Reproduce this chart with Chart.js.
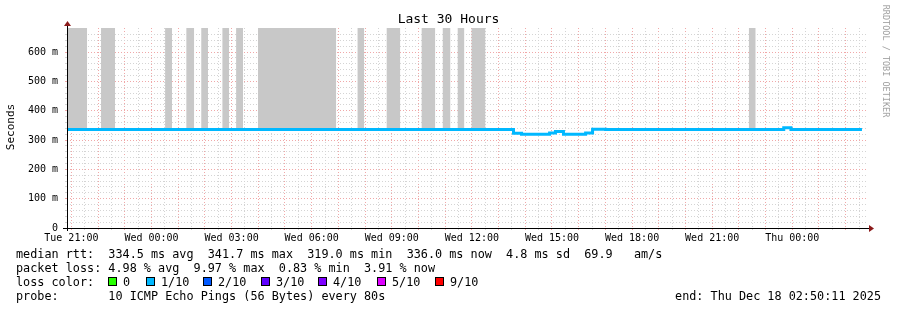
<!DOCTYPE html>
<html>
<head>
<meta charset="utf-8">
<script src="https://cdn.jsdelivr.net/npm/chart.js@4/dist/chart.umd.min.js"></script>
<style>
  body { margin: 0; background: #fff; }
  #wrap { position: relative; width: 897px; height: 310px; font-family: "DejaVu Sans Mono", monospace; color: #000; }
  canvas { position: absolute; left: 0; top: 0; }
  .t { position: absolute; white-space: pre; line-height: 14px; }
  .leg { font-size: 11.8px; }
  .box { position: absolute; width: 7px; height: 7px; border: 1px solid #000; }
</style>
</head>
<body>
<div id="wrap">
  <canvas id="chart" width="897" height="310"></canvas>
  <div class="t" style="left:0;width:897px;text-align:center;top:12px;font-size:13px;">Last 30 Hours</div>
  <div class="t" style="left:-19px;top:120px;width:60px;text-align:center;font-size:11px;transform:rotate(-90deg);">Seconds</div>
  <div class="t" style="left:826px;top:54px;width:120px;text-align:center;font-size:8.5px;color:#a0a0a0;transform:rotate(90deg);">RRDTOOL / TOBI OETIKER</div>
  <div id="legend"></div>
</div>
<script>
// x values are hours since Tue 00:00
const startHour = 20.836;   // Tue 20:50:11
const endHour = 50.836;     // Thu 02:50:11

// median rtt (ms), each value holds until the next time
const medianTimes = [20.84, 37.56, 37.86, 38.91, 39.13, 39.43, 40.26, 40.52, 41.01, 47.68, 47.95, 50.61];
const medianRtt   = [336,   323,   320,   324,   329,   320,   324,   337,   336,   342,   336,   336];

// gray smoke periods
const smokeStart = [20.87, 22.11, 24.51, 25.30, 25.86, 26.65, 27.17, 27.99, 31.71, 32.80, 34.11, 34.90, 35.46, 35.98, 46.37];
const smokeEnd   = [21.59, 22.64, 24.77, 25.60, 26.12, 26.91, 27.43, 30.92, 31.97, 33.32, 34.63, 35.20, 35.72, 36.51, 46.63];
const smokeTop = 682;
const smokeBase = 336;

const xTickHours  = [21, 24, 27, 30, 33, 36, 39, 42, 45, 48];
const xTickLabels = ['Tue 21:00', 'Wed 00:00', 'Wed 03:00', 'Wed 06:00', 'Wed 09:00',
                     'Wed 12:00', 'Wed 15:00', 'Wed 18:00', 'Wed 21:00', 'Thu 00:00'];
const yMax = 682;

const lossLabels = ['0', '1/10', '2/10', '3/10', '4/10', '5/10', '9/10'];
const lossColors = ['#26ff00', '#00b8ff', '#0059ff', '#5e00ff', '#7e00ff', '#dd00ff', '#ff0000'];

const legendLines = [
  'median rtt:  334.5 ms avg  341.7 ms max  319.0 ms min  336.0 ms now  4.8 ms sd  69.9   am/s',
  'packet loss: 4.98 % avg  9.97 % max  0.83 % min  3.91 % now',
  'loss color:',
  'probe:       10 ICMP Echo Pings (56 Bytes) every 80s'
];
const endText = 'end: Thu Dec 18 02:50:11 2025';

// legend text
const legend = document.getElementById('legend');
legendLines.forEach((txt, i) => {
  const d = document.createElement('div');
  d.className = 't leg';
  d.style.left = '16px';
  d.style.top = (247 + i * 14) + 'px';
  d.textContent = txt;
  legend.appendChild(d);
});
const boxX = [108, 146, 203, 261, 318, 377, 435];
lossLabels.forEach((lbl, i) => {
  const b = document.createElement('div');
  b.className = 'box';
  b.style.left = boxX[i] + 'px';
  b.style.top = '277px';
  b.style.background = lossColors[i];
  legend.appendChild(b);
  const d = document.createElement('div');
  d.className = 't leg';
  d.style.left = (boxX[i] + 15) + 'px';
  d.style.top = '275px';
  d.textContent = lbl;
  legend.appendChild(d);
});
const e = document.createElement('div');
e.className = 't leg';
e.style.right = '16px';
e.style.top = (247 + 3 * 14) + 'px';
e.textContent = endText;
legend.appendChild(e);

// build data
const medianData = medianTimes.map((t, i) => ({x: t, y: medianRtt[i]}));
const smokeData = [];
smokeStart.forEach((s, i) => {
  smokeData.push({x: s, y: smokeTop});
  smokeData.push({x: smokeEnd[i], y: smokeTop});
  smokeData.push({x: smokeEnd[i], y: null});
});

const isStep = (v, step) => Math.abs(v / step - Math.round(v / step)) < 1e-6;

const rrdAxes = {
  id: 'rrdAxes',
  afterDatasetsDraw(chart) {
    const {ctx, chartArea: a} = chart;
    ctx.save();
    ctx.strokeStyle = '#000';
    ctx.lineWidth = 1;
    ctx.beginPath();
    ctx.moveTo(a.left - 4, a.bottom + 0.5);
    ctx.lineTo(a.right + 1, a.bottom + 0.5);
    ctx.moveTo(a.left + 0.5, a.bottom + 3);
    ctx.lineTo(a.left + 0.5, a.top - 2);
    ctx.stroke();
    ctx.fillStyle = '#8b1a1a';
    ctx.beginPath();
    ctx.moveTo(a.right + 6, a.bottom + 0.5);
    ctx.lineTo(a.right + 1, a.bottom - 3);
    ctx.lineTo(a.right + 1, a.bottom + 4);
    ctx.closePath();
    ctx.fill();
    ctx.beginPath();
    ctx.moveTo(a.left + 0.5, a.top - 7);
    ctx.lineTo(a.left - 3, a.top - 2);
    ctx.lineTo(a.left + 4, a.top - 2);
    ctx.closePath();
    ctx.fill();
    ctx.restore();
  }
};

Chart.defaults.font.family = '"DejaVu Sans Mono", monospace';
Chart.defaults.font.size = 10;
Chart.defaults.color = '#000';

new Chart(document.getElementById('chart'), {
  type: 'line',
  data: {
    datasets: [
      {
        label: 'smoke',
        data: smokeData,
        borderWidth: 0,
        pointRadius: 0,
        spanGaps: false,
        backgroundColor: '#c8c8c8',
        fill: {value: smokeBase},
        order: 2
      },
      {
        label: 'median rtt',
        data: medianData,
        stepped: 'before',
        borderColor: '#00b8ff',
        borderWidth: 3,
        pointRadius: 0,
        fill: false,
        order: 1
      }
    ]
  },
  plugins: [rrdAxes],
  options: {
    responsive: false,
    animation: false,
    events: [],
    layout: {padding: {left: 0, top: 28, right: 29, bottom: 62}},
    plugins: {legend: {display: false}, tooltip: {enabled: false}, title: {display: false}},
    scales: {
      x: {
        type: 'linear',
        min: startHour,
        max: endHour,
        afterFit: (s) => { s.height = 20; },
        // grid every half hour, labels every 3 hours
        afterBuildTicks: (s) => {
          const t = [];
          for (let h = Math.ceil(startHour * 2) / 2; h <= endHour; h += 0.5) t.push({value: h});
          s.ticks = t;
        },
        border: {display: false, dash: [1, 2]},
        grid: {
          drawTicks: true,
          tickLength: 2,
          lineWidth: 1,
          color: (c) => {
            const v = c.tick ? c.tick.value : 0;
            if (isStep(v, 1)) return '#f0a8a8';
            if (isStep(v, 0.5)) return '#d4d4d4';
            return 'rgba(0,0,0,0)';
          }
        },
        ticks: {
          autoSkip: false,
          maxRotation: 0,
          padding: 2,
          callback: (v) => {
            const i = xTickHours.findIndex(h => Math.abs(h - v) < 1e-6);
            return i >= 0 ? xTickLabels[i] : '';
          }
        }
      },
      y: {
        min: 0,
        max: yMax,
        afterFit: (s) => { s.width = 67; },
        border: {display: false, dash: [1, 2]},
        grid: {
          drawTicks: true,
          tickLength: 2,
          lineWidth: 1,
          color: (c) => {
            const v = c.tick ? c.tick.value : 0;
            if (isStep(v, 100)) return '#f0a8a8';
            if (isStep(v, 20)) return '#d4d4d4';
            return 'rgba(0,0,0,0)';
          }
        },
        ticks: {
          stepSize: 20,
          autoSkip: false,
          padding: 7,
          callback: (v) => {
            if (!isStep(v, 100)) return '';
            return v === 0 ? '0' : v + ' m';
          }
        }
      }
    }
  }
});
</script>
</body>
</html>
